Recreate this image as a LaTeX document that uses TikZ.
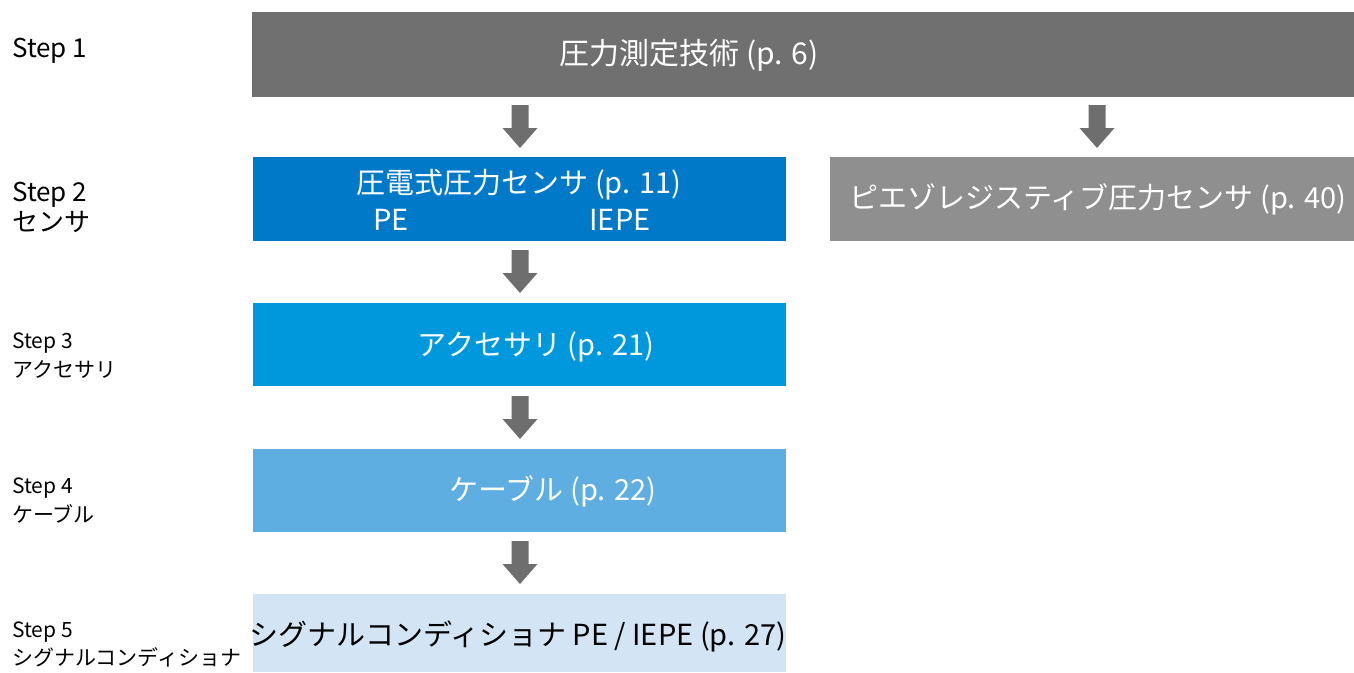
\documentclass[tikz,border=0pt]{standalone}
\usepackage{fontspec}
\setmainfont{Noto Sans CJK JP}
\definecolor{topgray}{HTML}{707070}
\definecolor{rgray}{HTML}{8F8F8F}
\definecolor{arrgray}{HTML}{6E6E6E}
\definecolor{blueA}{HTML}{0079C8}
\definecolor{blueB}{HTML}{0098DC}
\definecolor{blueC}{HTML}{5EAEE2}
\definecolor{blueD}{HTML}{D3E5F5}
\tikzset{
  boxtext/.style={text=white, font=\fontsize{29}{34}\selectfont, inner sep=0pt, anchor=base},
  steplbl/.style={font=\fontsize{26}{30}\selectfont, anchor=base west, inner sep=0pt},
  steplblsmall/.style={font=\fontsize{21}{25}\selectfont, anchor=base west, inner sep=0pt},
  arrowfill/.style={fill=arrgray, draw=none}
}
\newcommand\flowarrow[3]{% x, top y, name
  \coordinate (#3) at (#1,#2);
  \fill[arrowfill] ([xshift=-8.5pt]#3) -- ([xshift=8.5pt]#3) -- ([xshift=8.5pt,yshift=-23pt]#3)
    -- ([xshift=17.5pt,yshift=-23pt]#3) -- ([yshift=-43pt]#3) -- ([xshift=-17.5pt,yshift=-23pt]#3)
    -- ([xshift=-8.5pt,yshift=-23pt]#3) -- cycle;
}
\begin{document}
\begin{tikzpicture}[x=1pt,y=-1pt]
\useasboundingbox (0,0) rectangle (1354,672);
% boxes
\fill[topgray] (252,12) rectangle (1354,97);
\fill[blueA] (253,157) rectangle (786,241);
\fill[rgray] (830,157) rectangle (1354,241);
\fill[blueB] (253,303) rectangle (786,386);
\fill[blueC] (253,449) rectangle (786,532);
\fill[blueD] (253,594) rectangle (786,672);
% box texts
\node[boxtext, font=\fontsize{30}{34}\selectfont] (t1) at (689,64) {圧力測定技術 (p. 6)};
\node[boxtext] (t2) at (519,193) {圧電式圧力センサ (p. 11)};
\node[boxtext] (t2a) at (391,230) {PE};
\node[boxtext] (t2b) at (620,230) {IEPE};
\node[boxtext] (t2r) at (1098,208) {ピエゾレジスティブ圧力センサ (p. 40)};
\node[boxtext] (t3) at (536,355) {アクセサリ (p. 21)};
\node[boxtext] (t4) at (553,500) {ケーブル (p. 22)};
\node[boxtext, text=black] (t5) at (518,645) {シグナルコンディショナ PE / IEPE (p. 27)};
% arrows
\flowarrow{520}{105}{a1}
\flowarrow{1097}{105}{a2}
\flowarrow{520}{250}{a3}
\flowarrow{520}{396}{a4}
\flowarrow{520}{541}{a5}
% step labels
\node[steplbl] (s1) at (12,57) {Step 1};
\node[steplbl] (s2) at (12,201) {Step 2};
\node[steplbl] (s2b) at (12,231) {センサ};
\node[steplblsmall] (s3) at (12,348) {Step 3};
\node[steplblsmall] (s3b) at (12,377) {アクセサリ};
\node[steplblsmall] (s4) at (12,493) {Step 4};
\node[steplblsmall] (s4b) at (12,522) {ケーブル};
\node[steplblsmall] (s5) at (12,637) {Step 5};
\node[steplblsmall] (s5b) at (12,665) {シグナルコンディショナ};
\end{tikzpicture}
\end{document}
